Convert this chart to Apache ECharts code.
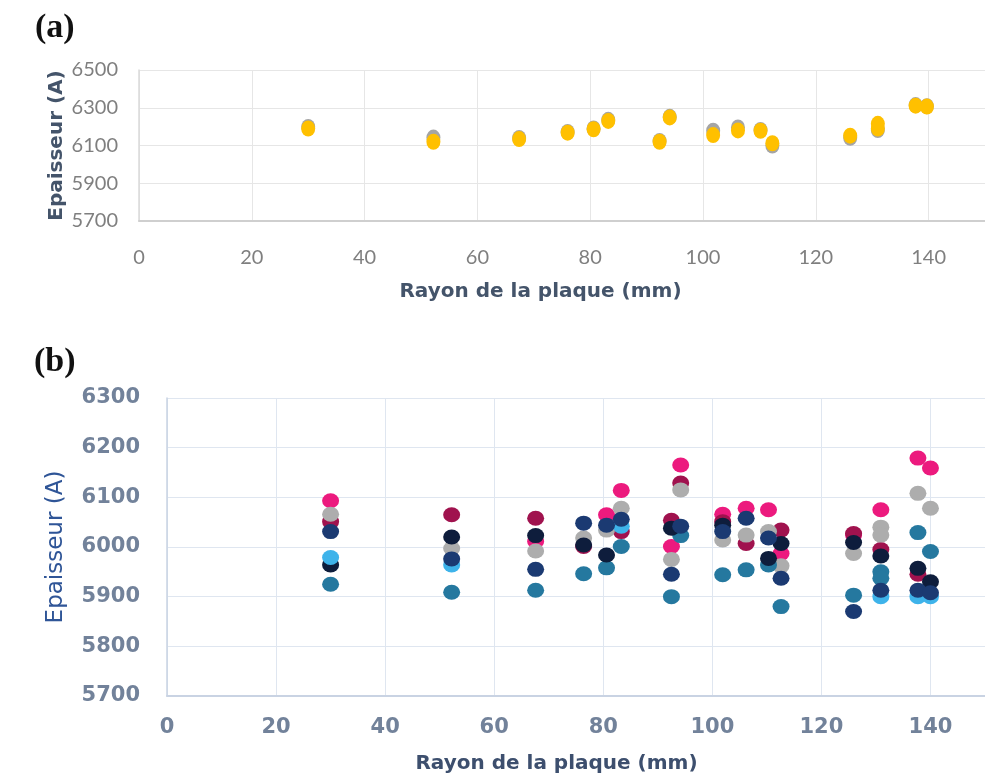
<!DOCTYPE html>
<html><head><meta charset="utf-8">
<script src="https://cdn.jsdelivr.net/npm/echarts@6/dist/echarts.min.js"></script>
<style>html,body{margin:0;padding:0;background:#fff}#c{width:985px;height:780px}</style>
</head><body><div id="c"></div>
<script>
// ---- text ----
const panelLabels = ['(a)', '(b)'];
const xTitle = 'Rayon de la plaque (mm)';
const yTitle = 'Epaisseur (A)';
// ---- axis ranges [min, max, interval] ----
const xRange = [0, 150, 20];
const yRangeA = [5700, 6500, 200];
const yRangeB = [5700, 6300, 100];

// ---- panel (a) : [radius mm, thickness A] ----
const aGray = [[30,6198],[52.2,6142],[67.4,6140],[76,6172],[80.6,6190],[83.2,6236],[92.3,6124],[94.1,6252],[101.8,6178],[106.2,6196],[110.2,6182],[112.3,6100],[126.1,6141],[131,6182],[137.7,6314],[139.7,6308]];
const aYellow = [[30,6190],[52.2,6120],[67.4,6134],[76,6168],[80.6,6186],[83.2,6230],[92.3,6120],[94.1,6249],[101.8,6155],[106.2,6180],[110.2,6178],[112.3,6112],[126.1,6152],[131,6215],[131,6190],[137.7,6311],[139.7,6306]];

// ---- panel (b) ----
const bPink = [[30,6093],[67.6,6011],[80.6,6065],[83.3,6114],[92.5,6001],[94.2,6165],[101.9,6066],[106.2,6078],[110.3,6075],[112.6,5987],[125.9,6024],[130.9,6075],[137.7,6179],[140,6159]];
const bCrimson = [[30,6051],[52.2,6065],[67.6,6058],[76.4,6001],[83.3,6031],[92.5,6054],[94.2,6129],[101.9,6051],[106.2,6007],[112.6,6034],[125.9,6027],[130.9,5995],[137.7,5945]];
const bGray = [[30,6066],[52.2,5997],[67.6,5992],[76.4,6018],[80.6,6034],[83.3,6078],[92.5,5975],[94.2,6115],[101.9,6014],[106.2,6024],[110.3,6031],[112.6,5962],[125.9,5987],[130.9,6040],[130.9,6024],[137.7,6108],[140,6078]];
const bTeal = [[30,5925],[52.2,5909],[67.6,5913],[76.4,5946],[80.6,5958],[83.3,6001],[92.5,5900],[94.2,6023],[101.9,5944],[106.2,5954],[110.3,5964],[112.6,5880],[125.9,5903],[130.9,5950],[130.9,5937],[137.7,6029],[140,5991]];
const bDarkNavy = [[30,5964],[52.2,6020],[67.6,6023],[76.4,6004],[80.6,5984],[92.5,6038],[101.9,6044],[110.3,5977],[112.6,6007],[125.9,6009],[130.9,5982],[137.7,5957],[140,5930]];
const bLightBlue = [[30,5979],[52.2,5964],[83.3,6042],[130.9,5900],[137.7,5900],[140,5900]];
const bNavy = [[30,6031],[52.2,5976],[67.6,5955],[76.4,6048],[80.6,6044],[83.3,6056],[92.5,5945],[94.2,6042],[101.9,6031],[106.2,6058],[110.3,6018],[112.6,5937],[125.9,5870],[130.9,5913],[137.7,5913],[140,5908]];

const chart = echarts.init(document.getElementById('c'), null, {renderer: 'canvas'});
const plain = v => String(v);

function xAxisOf(gi, style) {
  return {
    type: 'value', gridIndex: gi, min: xRange[0], max: xRange[1], interval: xRange[2],
    name: xTitle, nameLocation: 'middle', nameGap: style.nameGap, nameMoveOverlap: false,
    nameTextStyle: style.nameText,
    axisLine: {show: true, lineStyle: {color: style.axisColor, width: 2}},
    axisTick: {show: false},
    axisLabel: Object.assign({showMaxLabel: false, formatter: plain}, style.label),
    splitLine: {show: true, lineStyle: {color: style.gridColor, width: 1}}
  };
}
function yAxisOf(gi, range, style) {
  return {
    type: 'value', gridIndex: gi, min: range[0], max: range[1], interval: range[2],
    name: yTitle, nameLocation: 'middle', nameGap: style.nameGap, nameMoveOverlap: false,
    nameTextStyle: style.nameText,
    axisLine: {show: true, lineStyle: {color: style.yAxisColor, width: 1.5}},
    axisTick: {show: false},
    axisLabel: Object.assign({formatter: plain}, style.label),
    splitLine: {show: true, lineStyle: {color: style.gridColor, width: 1}}
  };
}

const styleAx = {
  axisColor: '#cfcfcf', gridColor: '#e6e6e6',
  nameText: {fontFamily: 'DejaVu Sans', fontWeight: 'bold', fontSize: 20, color: '#44546a', padding: [0, 43, 0, 0]},
  nameGap: 61,
  label: {fontFamily: 'Lato', fontSize: 20, color: '#7f7f7f', margin: 27}
};
const styleAy = {
  yAxisColor: '#dadada', gridColor: '#e6e6e6',
  nameText: {fontFamily: 'DejaVu Sans', fontWeight: 'bold', fontSize: 20, color: '#44546a'},
  nameGap: 72,
  label: {fontFamily: 'Lato', fontSize: 20, color: '#7f7f7f', margin: 21}
};
const styleBx = {
  axisColor: '#c9d3e3', gridColor: '#dfe6f0',
  nameText: {fontFamily: 'DejaVu Sans', fontWeight: 'bold', fontSize: 20, color: '#3d4f6e', padding: [0, 39, 0, 0]},
  nameGap: 58,
  label: {fontFamily: 'DejaVu Sans', fontWeight: 'bold', fontSize: 21, color: '#72829a', margin: 21}
};
const styleBy = {
  yAxisColor: '#c9d3e3', gridColor: '#dfe6f0',
  nameText: {fontFamily: 'DejaVu Sans', fontSize: 23, color: '#2f5597'},
  nameGap: 99,
  label: {fontFamily: 'DejaVu Sans', fontWeight: 'bold', fontSize: 21, color: '#72829a', margin: 27}
};

function sc(data, xi, color, size) {
  return {type: 'scatter', xAxisIndex: xi, yAxisIndex: xi, data: data, symbol: 'circle',
    symbolSize: size, itemStyle: {color: color, opacity: 1}, emphasis: {disabled: true}, animation: false};
}
const sA = [14, 16], sB = [17, 15];

const panelFont = {fontFamily: 'Liberation Serif', fontWeight: 'bold', fontSize: 34, color: '#111'};
chart.setOption({
  backgroundColor: '#ffffff',
  animation: false,
  title: [
    {text: panelLabels[0], left: 30, top: 6, textStyle: panelFont},
    {text: panelLabels[1], left: 29, top: 340, textStyle: panelFont}
  ],
  grid: [
    {left: 139, top: 70, width: 850, height: 151},
    {left: 167, top: 398, width: 825, height: 298}
  ],
  xAxis: [xAxisOf(0, styleAx), xAxisOf(1, styleBx)],
  yAxis: [yAxisOf(0, yRangeA, styleAy), yAxisOf(1, yRangeB, styleBy)],
  series: [
    sc(aGray, 0, '#a5a5a5', sA),
    sc(aYellow, 0, '#ffc000', sA),
    sc(bPink, 1, '#ec1a7e', sB),
    sc(bCrimson, 1, '#a0124e', sB),
    sc(bGray, 1, '#adadad', sB),
    sc(bTeal, 1, '#25789f', sB),
    sc(bDarkNavy, 1, '#0e1d3c', sB),
    sc(bLightBlue, 1, '#3eb3ea', sB),
    sc(bNavy, 1, '#1b3a72', sB)
  ]
});
</script></body></html>
